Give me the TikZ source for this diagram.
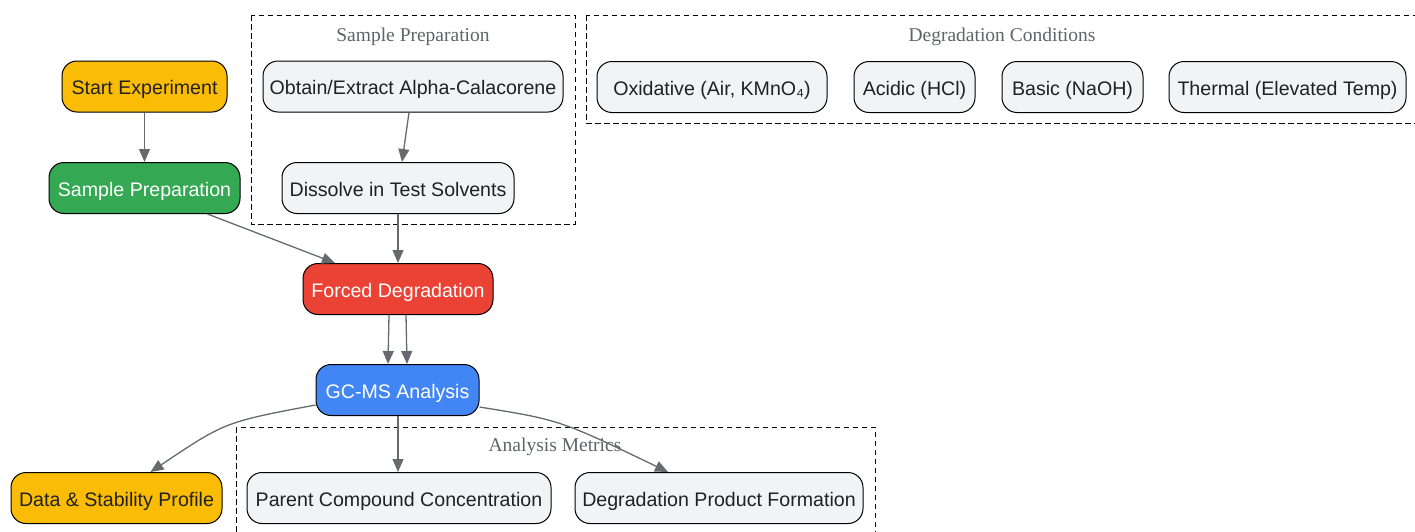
\documentclass[tikz,border=0pt]{standalone}
\usepackage{fontspec}
\setmainfont{Liberation Sans}
\newfontfamily\clusterfont{Liberation Serif}
\usetikzlibrary{arrows.meta}
\definecolor{edgegray}{HTML}{666A6E}
\definecolor{boxgray}{HTML}{F1F3F4}
\definecolor{gyellow}{HTML}{FBBC05}
\definecolor{ggreen}{HTML}{34A853}
\definecolor{gred}{HTML}{EA4335}
\definecolor{gblue}{HTML}{4285F4}
\definecolor{txtdark}{HTML}{202124}
\definecolor{clustertxt}{HTML}{5F6368}
\tikzset{
  box/.style={draw=black, line width=1pt, rounded corners=15pt, minimum height=51pt,
    inner xsep=0pt, inner ysep=0pt, text height=16.5pt, text depth=0pt,
    font=\fontsize{19.6}{22}\selectfont, text=txtdark, fill=boxgray},
  ybox/.style={box, fill=gyellow},
  gbox/.style={box, fill=ggreen, text=white},
  rbox/.style={box, fill=gred, text=white},
  bbox/.style={box, fill=gblue, text=white},
  cluster/.style={draw=black, line width=1pt, dash pattern=on 5.5pt off 3.5pt},
  clabel/.style={font=\clusterfont\fontsize{19.5}{22}\selectfont, text=clustertxt},
  conn/.style={draw=edgegray, line width=1.3pt, -{Triangle[length=13pt,width=11pt]}},
}
\begin{document}
\begin{tikzpicture}[x=1pt,y=-1pt]
\useasboundingbox (0,0) rectangle (1415,531);
% clusters
\draw[cluster] (251,15) rectangle (575,224);
\node[clabel] (cl1) at (413,37) {Sample Preparation};
\draw[cluster] (586,15) rectangle (1425,123);
\node[clabel] (cl2) at (1002,37) {Degradation Conditions};
\draw[cluster] (236,427) rectangle (875,540);
\node[clabel] (cl3) at (555,447) {Analysis Metrics};
% nodes
\node[ybox, minimum width=165pt] (start) at (144.5,86.5) {Start Experiment};
\node[gbox, minimum width=191pt] (sprep) at (144.5,188) {Sample Preparation};
\node[box, minimum width=300pt] (obtain) at (413,86.5) {Obtain/Extract Alpha-Calacorene};
\node[box, minimum width=232pt] (dissolve) at (398,188) {Dissolve in Test Solvents};
\node[box, minimum width=230pt] (oxi) at (712,87) {Oxidative (Air, KMnO₄)};
\node[box, minimum width=121pt] (acid) at (914.5,87) {Acidic (HCl)};
\node[box, minimum width=141pt] (basic) at (1072.5,87) {Basic (NaOH)};
\node[box, minimum width=237pt] (thermal) at (1287.5,87) {Thermal (Elevated Temp)};
\node[rbox, minimum width=190pt] (forced) at (398,289) {Forced Degradation};
\node[bbox, minimum width=163pt] (gcms) at (397.5,390) {GC-MS Analysis};
\node[ybox, minimum width=211pt] (data) at (116.5,498) {Data \& Stability Profile};
\node[box, minimum width=304pt] (parent) at (399,498) {Parent Compound Concentration};
\node[box, minimum width=288pt] (prod) at (719,498) {Degradation Product Formation};
% edges
\draw[conn] (start.south) -- (sprep.north);
\draw[conn] ([xshift=-4pt]obtain.south) -- ([xshift=4pt]dissolve.north);
\draw[conn] ([xshift=63pt]sprep.south) -- ([xshift=-63pt]forced.north);
\draw[conn] (dissolve.south) -- (forced.north);
\draw[conn] ([xshift=-9pt]forced.south) -- ([xshift=-9.5pt]gcms.north);
\draw[conn] ([xshift=8pt]forced.south) -- ([xshift=9.5pt]gcms.north);
\draw[conn] (gcms.south west) ++(0,-11) coordinate (g1) (g1) .. controls (225,422) .. ([xshift=34pt]data.north);
\draw[conn] ([xshift=0.5pt]gcms.south) -- ([xshift=-1pt]parent.north);
\draw[conn] (gcms.south east) ++(0,-9) coordinate (g2) (g2) .. controls (560,420) .. ([xshift=-51pt]prod.north);
\end{tikzpicture}
\end{document}
